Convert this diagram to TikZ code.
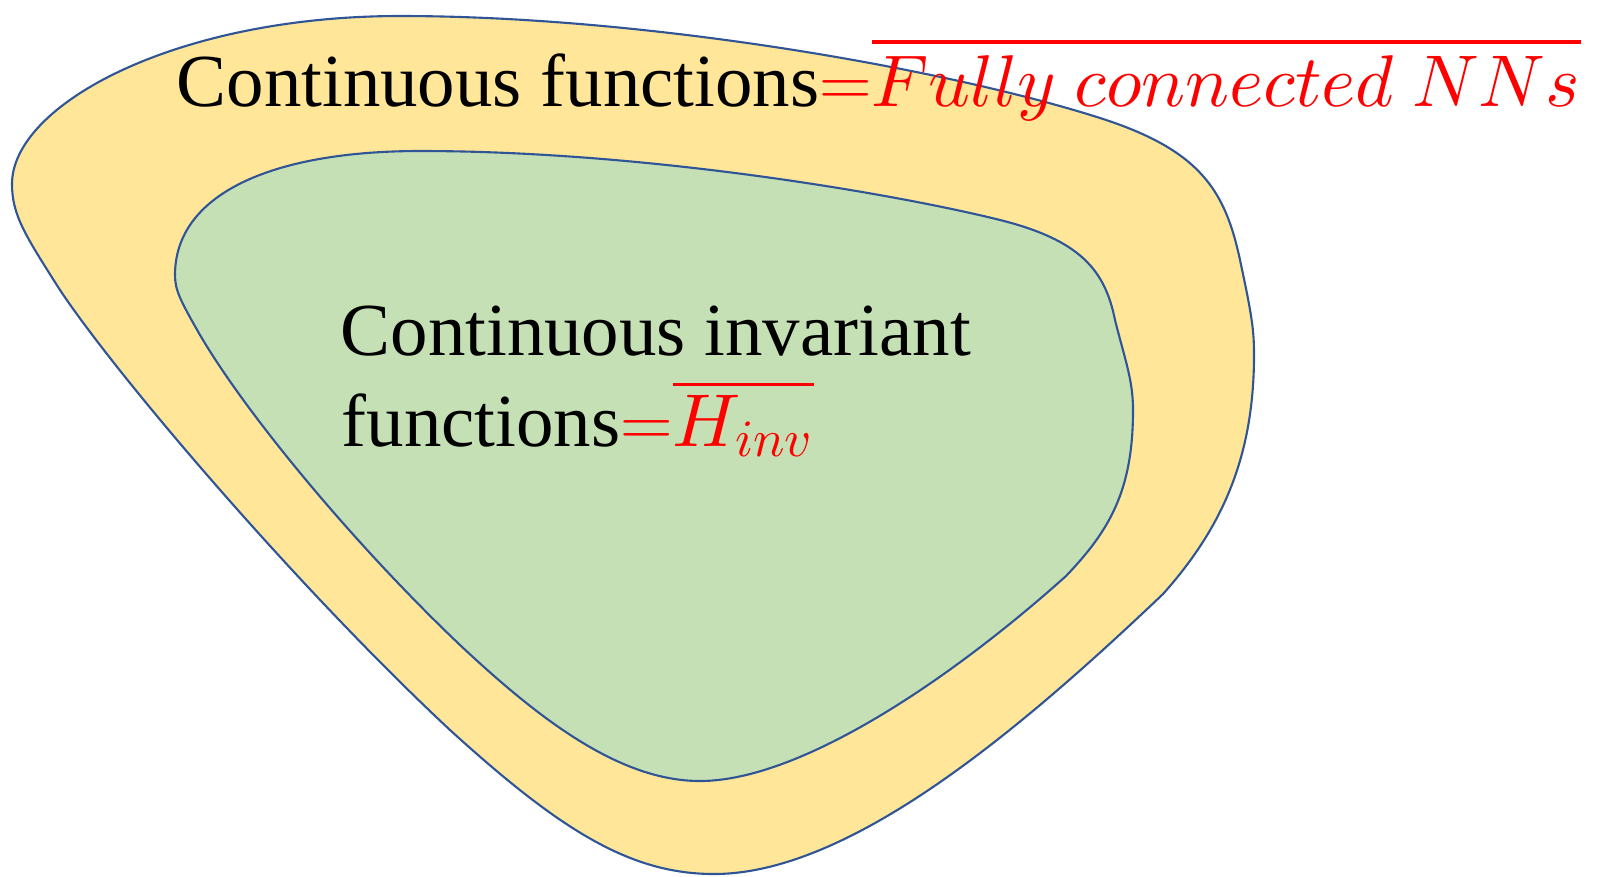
\documentclass[tikz,border=0pt]{standalone}
\usepackage{fontspec}
\setmainfont{Liberation Serif}
\DeclareFontShape{OML}{cmm}{m}{it}{<->cmmi10}{}
\usetikzlibrary{positioning}

\definecolor{setYellow}{HTML}{FFE699}
\definecolor{setGreen}{HTML}{C5E0B4}
\definecolor{setEdge}{HTML}{2F5597}

% thick bar over a formula
\newcommand{\redbar}[2][3pt]{\vbox{\hrule height 1.1pt\kern#1\hbox{#2}}}

\begin{document}
\begin{tikzpicture}[
  x=0.1mm, y=-0.1mm,
  blob/.style={draw=setEdge, line width=0.6pt},
  lbl/.style={font=\fontsize{21.3}{26}\selectfont, inner sep=0pt, anchor=base west}
]
  \useasboundingbox (0,0) rectangle (1599,876);

  % Outer set (continuous functions)
  \draw[blob, fill=setYellow] (12,184)
    .. controls (12,105) and (175,16) .. (400,16)
    .. controls (650,16) and (950,70) .. (1100,118)
    .. controls (1200,150) and (1225,190) .. (1240,260)
    .. controls (1252,316) and (1254,330) .. (1254,355)
    .. controls (1254,460) and (1220,530) .. (1163,594)
    .. controls (1020,730) and (850,874) .. (714,874)
    .. controls (630,874) and (560,830) .. (450,730)
    .. controls (300,590) and (120,380) .. (60,290)
    .. controls (25,235) and (12,215) .. cycle;

  % Inner set (invariant functions)
  \draw[blob, fill=setGreen] (175,275)
    .. controls (175,195) and (270,151) .. (420,151)
    .. controls (650,151) and (900,195) .. (1000,220)
    .. controls (1080,240) and (1105,270) .. (1115,320)
    .. controls (1125,360) and (1133,380) .. (1133,410)
    .. controls (1133,490) and (1110,530) .. (1066,576)
    .. controls (950,680) and (800,781) .. (700,781)
    .. controls (620,781) and (540,720) .. (460,645)
    .. controls (360,550) and (250,420) .. (200,335)
    .. controls (180,300) and (175,290) .. cycle;

  % Labels
  \node[lbl] (outerTxt) at (176,106)
    {Continuous functions\textcolor{red}{\fontsize{20.85}{26}\selectfont
      ${=}\redbar[3.3pt]{$Fully\ connected\ NNs$}$}};
  \node[lbl] (innerTxt) at (340,355) {Continuous invariant};
  \node[lbl] (innerTxtB) at (341,446)
    {functions\textcolor{red}{${=}\redbar[2.4pt]{$H_{inv}$}$}};
\end{tikzpicture}
\end{document}
